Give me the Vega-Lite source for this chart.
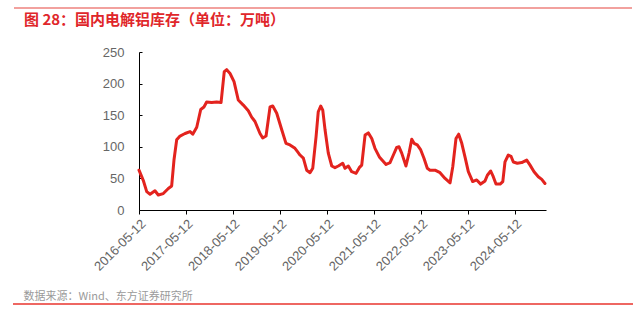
{
  "$schema": "https://vega.github.io/schema/vega-lite/v6.json",
  "width": 407,
  "height": 158,
  "autosize": "none",
  "padding": {"left": 139, "top": 52, "right": 87, "bottom": 118},
  "background": "white",
  "config": {
    "view": {"stroke": null},
    "font": "Liberation Sans"
  },
  "title": {
    "text": "图 28：国内电解铝库存（单位：万吨）",
    "anchor": "start",
    "frame": "group",
    "dx": -115,
    "offset": -21,
    "font": "Noto Sans CJK SC",
    "fontSize": 15,
    "fontWeight": "bold",
    "color": "#E0262A"
  },
  "layer": [
    {
      "data": {"values": [{}]},
      "mark": {"type": "rule", "color": "#F2A19E", "strokeWidth": 2},
      "encoding": {"x": {"value": -125}, "x2": {"value": 493}, "y": {"value": -44}}
    },
    {
      "data": {"values": [{}]},
      "mark": {"type": "rule", "color": "#E8352E", "strokeWidth": 1.5},
      "encoding": {"x": {"value": -126}, "x2": {"value": 494}, "y": {"value": 252}}
    },
    {
      "data": {
        "values": [
          {"date": "2016-05-12", "v": 63},
          {"date": "2016-06-14", "v": 47},
          {"date": "2016-07-11", "v": 29},
          {"date": "2016-08-06", "v": 25},
          {"date": "2016-09-13", "v": 30.5},
          {"date": "2016-10-09", "v": 23.7},
          {"date": "2016-11-17", "v": 26},
          {"date": "2016-12-26", "v": 34},
          {"date": "2017-01-21", "v": 38},
          {"date": "2017-02-08", "v": 79},
          {"date": "2017-03-01", "v": 111},
          {"date": "2017-03-27", "v": 117},
          {"date": "2017-05-05", "v": 121},
          {"date": "2017-06-13", "v": 124},
          {"date": "2017-07-04", "v": 120},
          {"date": "2017-08-04", "v": 131},
          {"date": "2017-09-04", "v": 159},
          {"date": "2017-09-29", "v": 163},
          {"date": "2017-10-20", "v": 171},
          {"date": "2017-11-28", "v": 170},
          {"date": "2018-01-06", "v": 171},
          {"date": "2018-02-09", "v": 170},
          {"date": "2018-03-06", "v": 219},
          {"date": "2018-03-25", "v": 222},
          {"date": "2018-04-20", "v": 216},
          {"date": "2018-05-21", "v": 203},
          {"date": "2018-06-23", "v": 174},
          {"date": "2018-08-01", "v": 166},
          {"date": "2018-09-09", "v": 157},
          {"date": "2018-10-05", "v": 147},
          {"date": "2018-10-31", "v": 140},
          {"date": "2018-12-09", "v": 121},
          {"date": "2018-12-30", "v": 114},
          {"date": "2019-01-25", "v": 117},
          {"date": "2019-02-25", "v": 163},
          {"date": "2019-03-18", "v": 164.5},
          {"date": "2019-04-18", "v": 153},
          {"date": "2019-05-27", "v": 127},
          {"date": "2019-06-29", "v": 105.5},
          {"date": "2019-07-30", "v": 103},
          {"date": "2019-09-07", "v": 97.6},
          {"date": "2019-09-28", "v": 92},
          {"date": "2019-10-16", "v": 87},
          {"date": "2019-11-11", "v": 82},
          {"date": "2019-12-07", "v": 63},
          {"date": "2020-01-02", "v": 59},
          {"date": "2020-01-23", "v": 66},
          {"date": "2020-02-18", "v": 116},
          {"date": "2020-03-06", "v": 155.5},
          {"date": "2020-03-25", "v": 164.5},
          {"date": "2020-04-10", "v": 158},
          {"date": "2020-04-28", "v": 126.5},
          {"date": "2020-05-23", "v": 90},
          {"date": "2020-06-19", "v": 69.6},
          {"date": "2020-07-14", "v": 67},
          {"date": "2020-08-09", "v": 69.6},
          {"date": "2020-09-12", "v": 74},
          {"date": "2020-09-30", "v": 66},
          {"date": "2020-10-26", "v": 69.6},
          {"date": "2020-11-21", "v": 60.6},
          {"date": "2020-12-25", "v": 58},
          {"date": "2021-01-19", "v": 67},
          {"date": "2021-02-07", "v": 71},
          {"date": "2021-03-05", "v": 118.6},
          {"date": "2021-03-30", "v": 122},
          {"date": "2021-04-26", "v": 113},
          {"date": "2021-05-21", "v": 97.6},
          {"date": "2021-06-24", "v": 84},
          {"date": "2021-07-20", "v": 78},
          {"date": "2021-08-15", "v": 72},
          {"date": "2021-09-15", "v": 75},
          {"date": "2021-10-11", "v": 87},
          {"date": "2021-11-06", "v": 99},
          {"date": "2021-11-24", "v": 100},
          {"date": "2021-12-15", "v": 90},
          {"date": "2022-01-17", "v": 69.6},
          {"date": "2022-02-10", "v": 90},
          {"date": "2022-03-03", "v": 112},
          {"date": "2022-03-21", "v": 105.5},
          {"date": "2022-04-15", "v": 103},
          {"date": "2022-05-12", "v": 95},
          {"date": "2022-06-06", "v": 82},
          {"date": "2022-07-02", "v": 66},
          {"date": "2022-07-23", "v": 63},
          {"date": "2022-08-31", "v": 63},
          {"date": "2022-10-09", "v": 59},
          {"date": "2022-11-17", "v": 50},
          {"date": "2022-12-26", "v": 43},
          {"date": "2023-01-16", "v": 68.5},
          {"date": "2023-02-10", "v": 113},
          {"date": "2023-03-03", "v": 120},
          {"date": "2023-03-27", "v": 105.5},
          {"date": "2023-04-21", "v": 84},
          {"date": "2023-05-17", "v": 60.6},
          {"date": "2023-06-20", "v": 45},
          {"date": "2023-07-21", "v": 47.5},
          {"date": "2023-08-21", "v": 41},
          {"date": "2023-09-24", "v": 46},
          {"date": "2023-10-12", "v": 55},
          {"date": "2023-11-07", "v": 61.7},
          {"date": "2023-11-27", "v": 52.7},
          {"date": "2023-12-18", "v": 41},
          {"date": "2024-01-19", "v": 41},
          {"date": "2024-02-09", "v": 45},
          {"date": "2024-02-26", "v": 76},
          {"date": "2024-03-23", "v": 87},
          {"date": "2024-04-13", "v": 85},
          {"date": "2024-05-01", "v": 76},
          {"date": "2024-06-01", "v": 74},
          {"date": "2024-07-05", "v": 75},
          {"date": "2024-08-13", "v": 79},
          {"date": "2024-09-08", "v": 71},
          {"date": "2024-10-09", "v": 60.6},
          {"date": "2024-11-11", "v": 52.7},
          {"date": "2024-12-08", "v": 48.5},
          {"date": "2025-01-02", "v": 42}
        ]
      },
      "mark": {"type": "line", "color": "#E3231E", "strokeWidth": 3, "strokeJoin": "round", "strokeCap": "round"},
      "encoding": {
        "x": {
          "field": "date",
          "type": "temporal",
          "scale": {
            "type": "utc",
            "domain": [
              {"year": 2016, "month": 5, "date": 12, "utc": true},
              {"year": 2025, "month": 1, "date": 10, "utc": true}
            ],
            "nice": false
          },
          "axis": {
            "values": [
              {"year": 2016, "month": 5, "date": 12, "utc": true},
              {"year": 2017, "month": 5, "date": 12, "utc": true},
              {"year": 2018, "month": 5, "date": 12, "utc": true},
              {"year": 2019, "month": 5, "date": 12, "utc": true},
              {"year": 2020, "month": 5, "date": 12, "utc": true},
              {"year": 2021, "month": 5, "date": 12, "utc": true},
              {"year": 2022, "month": 5, "date": 12, "utc": true},
              {"year": 2023, "month": 5, "date": 12, "utc": true},
              {"year": 2024, "month": 5, "date": 12, "utc": true}
            ],
            "format": "%Y-%m-%d",
            "labelAngle": -45,
            "labelAlign": "right",
            "labelBaseline": "top",
            "labelFontSize": 13,
            "labelColor": "#666666",
            "labelPadding": 3,
            "labelOverlap": false,
            "labelFlush": false,
            "grid": false,
            "domainColor": "#000000",
            "domainWidth": 1,
            "tickColor": "#000000",
            "tickSize": 4,
            "title": "数据来源：Wind、东方证券研究所",
            "titleFont": "Noto Sans CJK SC",
            "titleFontSize": 11,
            "titleFontWeight": "normal",
            "titleColor": "#9A9A9A",
            "titleAnchor": "start",
            "titleAlign": "left",
            "titleBaseline": "middle",
            "titleX": -116,
            "titleY": 86
          }
        },
        "y": {
          "field": "v",
          "type": "quantitative",
          "scale": {"domain": [0, 250], "nice": false},
          "axis": {
            "values": [0, 50, 100, 150, 200, 250],
            "grid": false,
            "domainColor": "#000000",
            "tickColor": "#000000",
            "tickSize": -3,
            "labelPadding": 18,
            "labelFontSize": 13,
            "labelColor": "#666666",
            "title": null
          }
        }
      }
    }
  ]
}
